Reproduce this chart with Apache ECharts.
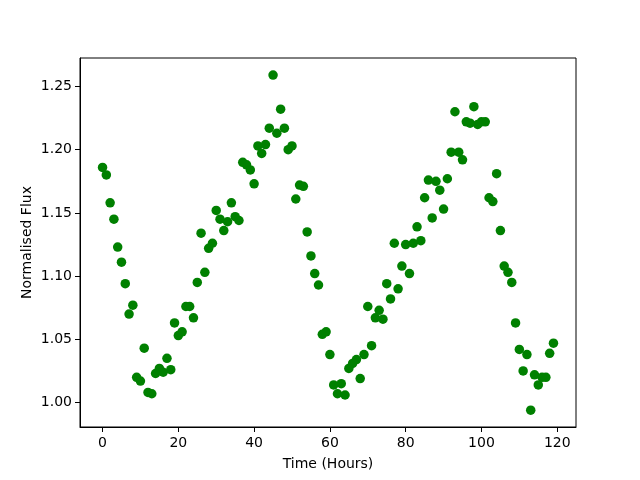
<!DOCTYPE html>
<html>
<head>
<meta charset="utf-8">
<script src="https://cdn.jsdelivr.net/npm/echarts@6/dist/echarts.min.js"></script>
<style>
html, body { margin: 0; padding: 0; background: #fff; }
#chart { width: 640px; height: 480px; }
</style>
</head>
<body>
<div id="chart"></div>
<script>
// time in hours
var hours = [
    0, 1, 2, 3, 4, 5, 6, 7, 8, 9, 10, 11, 12, 13, 14, 15, 16, 17, 18, 19,
    20, 21, 22, 23, 24, 25, 26, 27, 28, 29, 30, 31, 32, 33, 34, 35, 36, 37, 38, 39,
    40, 41, 42, 43, 44, 45, 46, 47, 48, 49, 50, 51, 52, 53, 54, 55, 56, 57, 58, 59,
    60, 61, 62, 63, 64, 65, 66, 67, 68, 69, 70, 71, 72, 73, 74, 75, 76, 77, 78, 79,
    80, 81, 82, 83, 84, 85, 86, 87, 88, 89, 90, 91, 92, 93, 94, 95, 96, 97, 98, 99,
    100, 101, 102, 103, 104, 105, 106, 107, 108, 109, 110, 111, 112, 113, 114, 115, 116, 117, 118, 119
];
// normalised flux
var flux = [
    1.186, 1.180, 1.158, 1.145, 1.123, 1.111, 1.094, 1.070, 1.077, 1.020,
    1.017, 1.043, 1.008, 1.007, 1.023, 1.027, 1.024, 1.035, 1.026, 1.063,
    1.053, 1.056, 1.076, 1.076, 1.067, 1.095, 1.134, 1.103, 1.122, 1.126,
    1.152, 1.145, 1.136, 1.143, 1.158, 1.147, 1.144, 1.190, 1.188, 1.184,
    1.173, 1.203, 1.197, 1.204, 1.217, 1.259, 1.213, 1.232, 1.217, 1.200,
    1.203, 1.161, 1.172, 1.171, 1.135, 1.116, 1.102, 1.093, 1.054, 1.056,
    1.038, 1.014, 1.007, 1.015, 1.006, 1.027, 1.031, 1.034, 1.019, 1.038,
    1.076, 1.045, 1.067, 1.073, 1.066, 1.094, 1.082, 1.126, 1.090, 1.108,
    1.125, 1.102, 1.126, 1.139, 1.128, 1.162, 1.176, 1.146, 1.175, 1.168,
    1.153, 1.177, 1.198, 1.230, 1.198, 1.192, 1.222, 1.221, 1.234, 1.220,
    1.222, 1.222, 1.162, 1.159, 1.181, 1.136, 1.108, 1.103, 1.095, 1.063,
    1.042, 1.025, 1.038, 0.994, 1.022, 1.014, 1.020, 1.020, 1.039, 1.047
];
var xTicks = [0, 20, 40, 60, 80, 100, 120];
var yTicks = [1.00, 1.05, 1.10, 1.15, 1.20, 1.25];

var points = hours.map(function (h, i) { return [h, flux[i]]; });

var chart = echarts.init(document.getElementById('chart'));
var font = 'DejaVu Sans';
chart.setOption({
    animation: false,
    grid: {
        left: 80, right: 64, top: 58, bottom: 53,
        show: true, borderColor: '#000', borderWidth: 1, backgroundColor: 'transparent'
    },
    xAxis: {
        type: 'value',
        min: -5.95, max: 124.95,
        name: 'Time (Hours)',
        nameLocation: 'middle',
        nameGap: 30,
        nameMoveOverlap: false,
        nameTextStyle: { color: '#000', fontFamily: font, fontSize: 14 },
        axisLine: { show: true, onZero: false, lineStyle: { color: '#000', width: 1 } },
        axisTick: { show: true, length: 5, customValues: xTicks, lineStyle: { color: '#000' } },
        axisLabel: {
            customValues: xTicks, color: '#000', fontFamily: font, fontSize: 14, margin: 9,
            formatter: function (v) { return String(v); }
        },
        splitLine: { show: false }
    },
    yAxis: {
        type: 'value',
        min: 0.9807, max: 1.2725,
        name: 'Normalised Flux',
        nameLocation: 'middle',
        nameGap: 46,
        nameRotate: 90,
        nameMoveOverlap: false,
        nameTextStyle: { color: '#000', fontFamily: font, fontSize: 14 },
        axisLine: { show: true, onZero: false, lineStyle: { color: '#000', width: 1 } },
        axisTick: { show: true, length: 5, customValues: yTicks, lineStyle: { color: '#000' } },
        axisLabel: {
            customValues: yTicks, color: '#000', fontFamily: font, fontSize: 14, margin: 8,
            formatter: function (v) { return v.toFixed(2); }
        },
        splitLine: { show: false }
    },
    series: [{
        type: 'scatter',
        data: points,
        symbol: 'circle',
        symbolSize: 9.5,
        itemStyle: { color: '#008000', opacity: 1 }
    }]
});
</script>
</body>
</html>
